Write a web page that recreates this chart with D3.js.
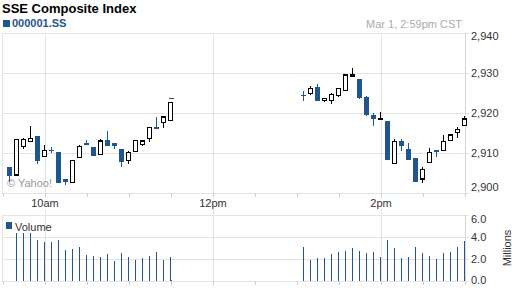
<!DOCTYPE html>
<html>
<head>
<meta charset="utf-8">
<script src="https://cdn.jsdelivr.net/npm/d3@7/dist/d3.min.js"></script>
<style>
  html, body { margin: 0; padding: 0; background: #fff; }
  svg { display: block; font-family: "Liberation Sans", Arial, sans-serif; }
</style>
</head>
<body>
<div id="chart"></div>
<script>
// --- Données (bougies de 5 min, SSE Composite, 1er mars) ---
const times = ["9:34","9:39","9:44","9:49","9:54","9:59","10:04","10:09","10:14","10:19","10:24","10:29",
  "10:34","10:39","10:44","10:49","10:54","10:59","11:04","11:09","11:14","11:19","11:24","11:29","11:30",
  "13:04","13:09","13:14","13:19","13:24","13:29","13:34","13:39","13:44","13:49","13:54","13:59",
  "14:04","14:09","14:14","14:19","14:24","14:29","14:34","14:39","14:44","14:49","14:54","14:59"];
const open  = [2906.6,2904.5,2911.6,2912.8,2914.2,2909.2,2910.7,2910.2,2903.5,2902.6,2908.9,2912.4,
  2911.5,2909.7,2913.2,2912.4,2911.0,2908.2,2910.3,2912.2,2913.7,2916.6,2917.7,2918.2,2923.7,
  2924.6,2924.9,2926.4,2923.2,2923.2,2924.4,2925.7,2929.4,2928.5,2924.1,2919.4,2918.6,
  2918.0,2907.4,2913.1,2910.9,2908.7,2903.5,2907.7,2910.7,2910.6,2913.2,2915.1,2916.8];
const high  = [2906.6,2913.3,2913.7,2916.8,2914.2,2911.9,2911.6,2910.2,2903.6,2908.2,2912.1,2913.3,
  2911.5,2913.4,2915.5,2912.6,2911.0,2910.6,2913.1,2913.1,2916.4,2919.1,2919.1,2922.7,2923.7,
  2925.5,2926.7,2927.2,2923.8,2925.1,2926.2,2929.5,2931.2,2928.5,2924.3,2920.1,2920.2,
  2918.0,2913.4,2913.4,2912.6,2908.7,2906.6,2911.2,2910.7,2914.5,2914.5,2916.4,2919.2];
const low   = [2902.8,2904.5,2911.1,2912.8,2907.2,2909.2,2910.1,2902.6,2902.1,2902.6,2908.9,2911.9,
  2909.2,2909.7,2911.7,2910.9,2906.6,2907.2,2910.3,2911.7,2912.8,2916.1,2916.2,2918.2,2923.4,
  2923.0,2924.5,2923.1,2922.8,2922.3,2923.9,2925.7,2929.3,2923.6,2919.2,2916.8,2918.5,
  2908.2,2907.4,2910.6,2908.2,2902.8,2902.6,2907.7,2909.1,2910.6,2913.2,2913.8,2916.8];
const close = [2904.3,2913.3,2913.4,2913.7,2908.1,2910.6,2910.5,2902.6,2902.8,2908.2,2911.7,2911.9,
  2909.2,2913.0,2911.7,2911.7,2907.7,2910.2,2913.1,2913.0,2916.4,2916.1,2919.0,2922.7,2923.4,
  2924.3,2926.2,2923.1,2923.7,2924.6,2926.2,2929.5,2929.5,2923.8,2919.4,2918.6,2918.7,
  2908.2,2912.9,2911.7,2908.2,2902.8,2905.9,2910.2,2910.2,2912.8,2914.5,2915.9,2918.5];
// volume en millions (pas de barre pour la première bougie)
const volume = [null,4.4,4.4,4.4,3.77,3.52,3.52,3.77,2.84,2.93,3.06,2.38,
  2.29,2.19,2.47,1.82,2.56,2.19,1.92,2.10,2.29,2.66,1.92,2.19,0.1,
  3.12,1.92,2.10,2.10,2.47,2.66,2.75,3.03,2.75,2.56,2.66,2.19,
  3.77,3.03,2.10,2.19,3.12,2.56,2.29,2.01,2.56,2.66,3.12,3.68];

const priceTicks = [2900, 2910, 2920, 2930, 2940];
const volTicks = [0, 2, 4, 6];
const hourLabels = [["10:00", "10am"], ["12:00", "12pm"], ["14:00", "2pm"]];
const minorTicks = ["9:30","10:30","11:00","11:30","12:30","13:00","13:30","14:30","15:00"];

const width = 512, height = 288;
const BLUE = "#1f5591", GRID = "#e4e4e4", TXT = "#333";

const toMin = s => { const [h, m] = s.split(":").map(Number); return h * 60 + m; };

const svg = d3.select("#chart").append("svg")
  .attr("width", width).attr("height", height);

// --- Échelles ---
const x = d3.scaleLinear().domain([toMin("9:30"), toMin("15:00")]).range([3, 465]);
const y = d3.scaleLinear().domain([2900, 2940]).range([193, 33]);
const yv = d3.scaleLinear().domain([0, 6]).range([281, 215]);

const gridG = svg.append("g").attr("shape-rendering", "crispEdges");

// grilles verticales (toutes les 2h) traversant les deux panneaux
hourLabels.forEach(([t]) => {
  gridG.append("line")
    .attr("x1", Math.round(x(toMin(t))) + 0.5).attr("x2", Math.round(x(toMin(t))) + 0.5)
    .attr("y1", 33).attr("y2", 281).attr("stroke", GRID);
});

// grilles horizontales du panneau prix
priceTicks.forEach(v => {
  gridG.append("line")
    .attr("x1", 3).attr("x2", 469)
    .attr("y1", Math.round(y(v)) + 0.5).attr("y2", Math.round(y(v)) + 0.5)
    .attr("stroke", GRID);
});
volTicks.forEach(v => {
  gridG.append("line")
    .attr("x1", 3).attr("x2", 469)
    .attr("y1", Math.round(yv(v)) + 0.5).attr("y2", Math.round(yv(v)) + 0.5)
    .attr("stroke", GRID);
});

// bordures gauche / axe droit
[[33, 193], [215, 281]].forEach(([a, b]) => {
  gridG.append("line").attr("x1", 2.5).attr("x2", 2.5).attr("y1", a).attr("y2", b + 1).attr("stroke", GRID);
  gridG.append("line").attr("x1", 465.5).attr("x2", 465.5).attr("y1", a).attr("y2", b + 1).attr("stroke", "#d8d8d8");
});

// petites graduations toutes les 30 min
minorTicks.concat(hourLabels.map(d => d[0])).forEach(t => {
  const px = Math.round(x(toMin(t))) + 0.5;
  [[193, 197], [281, 285]].forEach(([a, b]) => {
    gridG.append("line").attr("x1", px).attr("x2", px).attr("y1", a).attr("y2", b).attr("stroke", "#cfcfcf");
  });
});

// libellés des heures (fond blanc)
hourLabels.forEach(([t, lab]) => {
  const px = x(toMin(t));
  const txt = svg.append("text").attr("x", px).attr("y", 207)
    .attr("text-anchor", "middle").attr("font-size", 11).attr("fill", TXT).text(lab);
  const bb = txt.node().getBBox();
  svg.insert("rect", "text").attr("x", bb.x - 1).attr("y", 198).attr("width", bb.width + 2)
    .attr("height", 11).attr("fill", "#fff");
});

// libellés axe prix
priceTicks.forEach(v => {
  svg.append("text").attr("x", 471).attr("y", Math.max(40, Math.min(191, y(v) + 4)))
    .attr("font-size", 11).attr("fill", TXT).text(d3.format(",")(v));
});
volTicks.forEach(v => {
  svg.append("text").attr("x", 471).attr("y", Math.max(223, Math.min(284, yv(v) + 4)))
    .attr("font-size", 11).attr("fill", TXT).text(d3.format(".1f")(v));
});
svg.append("text").attr("transform", "translate(511,248) rotate(-90)")
  .attr("text-anchor", "middle").attr("font-size", 11).attr("fill", TXT).text("Millions");

// --- En-tête ---
svg.append("text").attr("x", 2).attr("y", 13).attr("font-size", 13).attr("font-weight", "bold")
  .attr("fill", "#000").text("SSE Composite Index");
svg.append("rect").attr("x", 3).attr("y", 20).attr("width", 7).attr("height", 7).attr("fill", BLUE);
svg.append("text").attr("x", 12).attr("y", 27).attr("font-size", 11).attr("font-weight", "bold")
  .attr("fill", BLUE).text("000001.SS");
svg.append("text").attr("x", 462).attr("y", 28).attr("text-anchor", "end").attr("font-size", 11)
  .attr("fill", "#aaa").text("Mar 1, 2:59pm CST");

svg.append("text").attr("x", 7).attr("y", 187).attr("font-size", 11).attr("fill", "#999")
  .text("\u00a9 Yahoo!");

// --- Volume ---
const data = times.map((t, i) => ({
  t: toMin(t), o: open[i], h: high[i], l: low[i], c: close[i], v: volume[i]
}));

svg.append("g").attr("shape-rendering", "crispEdges")
  .selectAll("rect").data(data.filter(d => d.v != null)).enter().append("rect")
  .attr("x", d => Math.round(x(d.t)) - 0.5)
  .attr("width", 1.6)
  .attr("y", d => yv(d.v))
  .attr("height", d => yv(0) - yv(d.v))
  .attr("fill", BLUE);

svg.append("rect").attr("x", 6).attr("y", 222).attr("width", 6).attr("height", 7).attr("fill", BLUE);
svg.append("text").attr("x", 15).attr("y", 231).attr("font-size", 11).attr("fill", TXT).text("Volume");

// --- Bougies ---
const candles = svg.append("g").attr("shape-rendering", "crispEdges")
  .selectAll("g").data(data).enter().append("g");

candles.append("line")
  .attr("x1", d => Math.round(x(d.t)) + 0.5).attr("x2", d => Math.round(x(d.t)) + 0.5)
  .attr("y1", d => y(d.h)).attr("y2", d => y(d.l))
  .attr("stroke", d => d.c < d.o ? BLUE : "#000")
  .attr("stroke-width", 1.2);

candles.append("rect")
  .attr("x", d => d.c < d.o ? Math.round(x(d.t)) - 2 : Math.round(x(d.t)) - 1.5)
  .attr("width", d => d.c < d.o ? 5 : 4)
  .attr("y", d => d.c < d.o ? y(d.o) : y(d.c))
  .attr("height", d => Math.max(1, Math.abs(y(d.o) - y(d.c))))
  .attr("fill", d => d.c < d.o ? BLUE : "#fff")
  .attr("stroke", d => d.c < d.o ? "none" : "#000")
  .attr("stroke-width", 1.2);
</script>
</body>
</html>
